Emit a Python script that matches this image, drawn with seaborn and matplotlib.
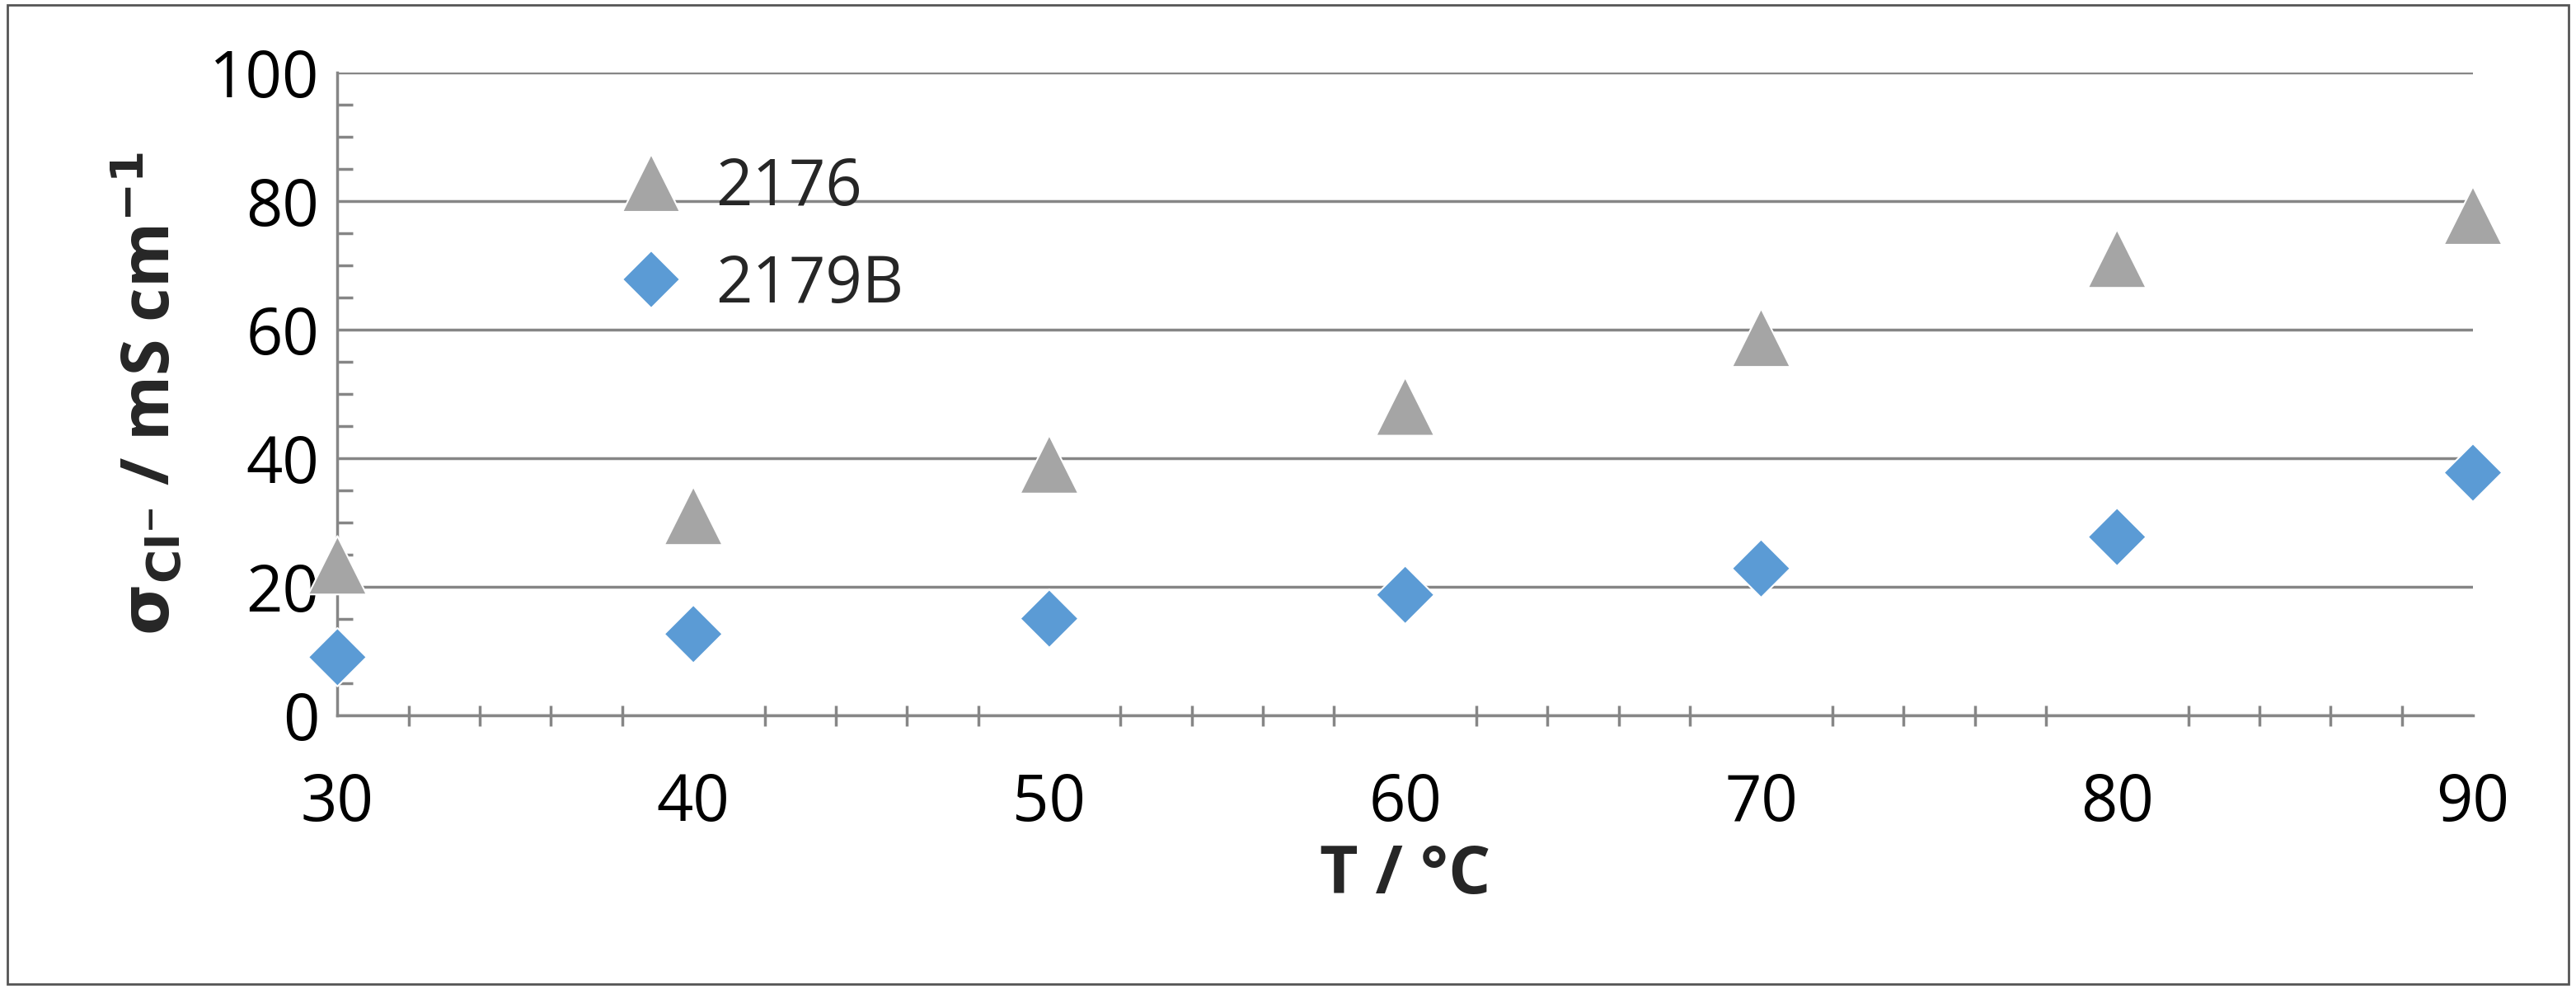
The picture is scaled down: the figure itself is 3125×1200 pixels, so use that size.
import matplotlib
matplotlib.use("Agg")
import matplotlib.pyplot as plt
import seaborn as sns
import pandas as pd
from matplotlib.ticker import MultipleLocator
from matplotlib.patches import Rectangle

# values
temps = [30, 40, 50, 60, 70, 80, 90]
sigma_2176 = [23.3, 31.0, 39.0, 48.0, 58.7, 71.0, 77.7]
sigma_2179b = [9.0, 12.6, 15.0, 18.7, 22.8, 27.7, 37.7]

sns.set_theme(style="white")
plt.rcParams["font.family"] = ["Open Sans", "DejaVu Sans"]

df = pd.DataFrame({
    "T": temps * 2,
    "sigma": sigma_2176 + sigma_2179b,
    "sample": ["2176"] * len(temps) + ["2179B"] * len(temps),
})

fig = plt.figure(figsize=(31.25, 12), dpi=100)
ax = fig.add_axes([0.131, 0.277, 0.829, 0.65])
fig.patches.append(Rectangle((0.003, 0.005), 0.994, 0.99, transform=fig.transFigure,
                             fill=False, edgecolor="#555555", linewidth=2))

sns.scatterplot(data=df, x="T", y="sigma", hue="sample", style="sample",
                markers={"2176": "^", "2179B": "D"},
                palette={"2176": "#a5a5a5", "2179B": "#5b9bd5"},
                size="sample", sizes={"2176": 2600, "2179B": 1300},
                edgecolor="white", linewidth=1.5, ax=ax, zorder=3, clip_on=False)

ax.set_xlim(30, 90)
ax.set_ylim(0, 100)
ax.xaxis.set_major_locator(MultipleLocator(10))
ax.xaxis.set_minor_locator(MultipleLocator(2))
ax.yaxis.set_major_locator(MultipleLocator(20))
ax.yaxis.set_minor_locator(MultipleLocator(5))
ax.grid(axis="y", which="major", color="#868686", linewidth=2.5)
ax.set_axisbelow(True)
for s in ["top", "right"]:
    ax.spines[s].set_visible(False)
for s in ["left", "bottom"]:
    ax.spines[s].set_color("#868686")
    ax.spines[s].set_linewidth(2.5)
ax.tick_params(axis="both", which="major", labelsize=56, colors="#868686",
               labelcolor="black", width=2.5, length=18)
ax.tick_params(axis="x", which="both", direction="inout", pad=40)
ax.tick_params(axis="x", which="minor", length=18, width=2.5, color="#868686")
ax.tick_params(axis="y", which="both", direction="in", pad=16)
ax.tick_params(axis="y", which="minor", length=14, width=2.5, color="#868686")
ax.tick_params(axis="x", which="minor", bottom=True)
ax.tick_params(axis="y", which="minor", left=True)

ax.set_xlabel("T / °C", fontsize=58, fontweight="bold", labelpad=6)
ax.set_ylabel(r"$\mathbf{\sigma_{Cl^{-}}}$ / mS cm$^{\mathbf{-1}}$", fontsize=58,
              fontweight="bold", labelpad=20)

handles, labels = ax.get_legend_handles_labels()
keep = [(h, l) for h, l in zip(handles, labels) if l in ("2176", "2179B")][:2]
leg = ax.legend([h for h, _ in keep], [l for _, l in keep], loc="upper left",
                bbox_to_anchor=(0.09, 0.96), frameon=False, fontsize=56,
                markerscale=1.0, handletextpad=0.0, labelspacing=0.5)

fig.savefig("out.png", dpi=100)
